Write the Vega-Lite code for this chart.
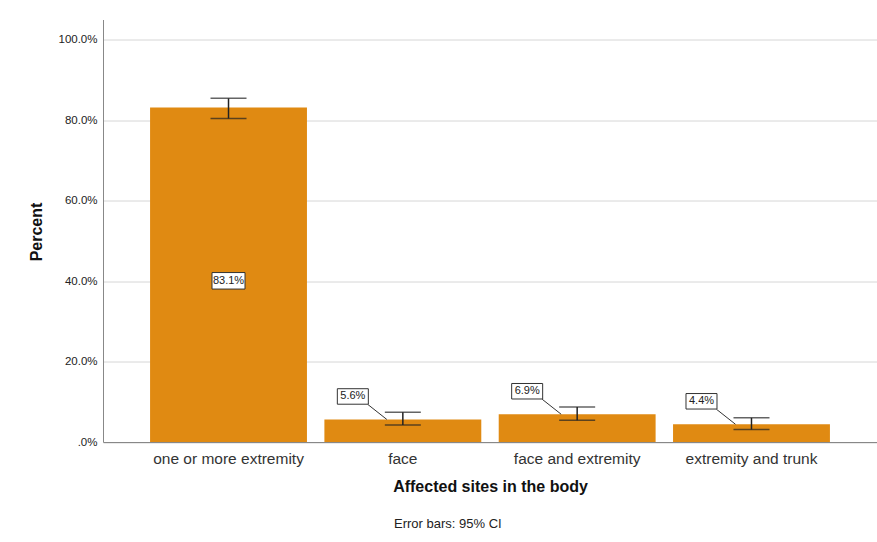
{
  "$schema": "https://vega.github.io/schema/vega-lite/v6.json",
  "width": 774,
  "height": 422.5,
  "autosize": "none",
  "padding": {"left": 103, "top": 19.5, "right": 0, "bottom": 100},
  "background": "white",
  "config": {
    "view": {"stroke": null},
    "font": "Liberation Sans"
  },
  "title": {
    "text": "Error bars: 95% CI",
    "orient": "bottom",
    "anchor": "start",
    "frame": "group",
    "dx": 291,
    "offset": 23,
    "fontSize": 13,
    "fontWeight": "normal",
    "color": "#222",
    "font": "Liberation Sans"
  },
  "data": {
    "values": [
      {"site": "one or more extremity", "pct": 83.1, "lo": 80.4, "hi": 85.4},
      {"site": "face", "pct": 5.6, "lo": 4.2, "hi": 7.4},
      {"site": "face and extremity", "pct": 6.9, "lo": 5.4, "hi": 8.7},
      {"site": "extremity and trunk", "pct": 4.4, "lo": 3.1, "hi": 6.0}
    ]
  },
  "transform": [
    {"calculate": "format(datum.pct, '.1f') + '%'", "as": "label"},
    {"calculate": "datum.pct / 2", "as": "mid"}
  ],
  "encoding": {
    "x": {
      "field": "site",
      "type": "nominal",
      "sort": null,
      "scale": {"paddingInner": 0.1, "paddingOuter": 0.27},
      "axis": {
        "title": "Affected sites in the body",
        "labelAngle": 0,
        "labelFontSize": 15.5,
        "labelColor": "#333",
        "labelPadding": 9,
        "ticks": false,
        "domainColor": "#888",
        "titleFontSize": 16,
        "titleFontWeight": "bold",
        "titleColor": "#111",
        "titlePadding": 12
      }
    }
  },
  "layer": [
    {
      "mark": {"type": "bar", "color": "#E08A12"},
      "encoding": {
        "y": {
          "field": "pct",
          "type": "quantitative",
          "scale": {"domain": [0, 105], "nice": false},
          "axis": {
            "title": "Percent",
            "values": [0, 20, 40, 60, 80, 100],
            "labelExpr": "datum.value == 0 ? '.0%' : format(datum.value, '.1f') + '%'",
            "labelFontSize": 11.5,
            "labelColor": "#222",
            "labelPadding": 6,
            "ticks": false,
            "domainColor": "#888",
            "gridColor": "#d6d6d6",
            "titleFontSize": 16,
            "titleFontWeight": "bold",
            "titleColor": "#111",
            "titleX": -67,
            "titleY": 212,
            "titleBaseline": "middle"
          }
        }
      }
    },
    {
      "mark": {"type": "rule", "color": "#222", "strokeWidth": 1.5},
      "encoding": {
        "y": {"field": "lo", "type": "quantitative"},
        "y2": {"field": "hi"}
      }
    },
    {
      "mark": {"type": "tick", "color": "#222", "size": 36, "thickness": 1.5},
      "encoding": {"y": {"field": "lo", "type": "quantitative"}}
    },
    {
      "mark": {"type": "tick", "color": "#222", "size": 36, "thickness": 1.5},
      "encoding": {"y": {"field": "hi", "type": "quantitative"}}
    },
    {
      "transform": [{"filter": "datum.pct < 50"}],
      "mark": {"type": "rule", "color": "#333", "strokeWidth": 1, "xOffset": -35, "yOffset": -15, "x2Offset": -16, "y2Offset": 0},
      "encoding": {
        "x": {"field": "site", "type": "nominal", "sort": null, "bandPosition": 0.5},
        "x2": {"field": "site", "bandPosition": 0.5},
        "y": {"field": "pct", "type": "quantitative"},
        "y2": {"field": "pct"}
      }
    },
    {
      "transform": [{"filter": "datum.pct < 50"}],
      "mark": {"type": "point", "shape": "M-1,-0.5H1V0.5H-1Z", "size": 961, "filled": false, "fill": "white", "fillOpacity": 1, "stroke": "#333", "strokeWidth": 1, "opacity": 1, "xOffset": -50, "yOffset": -23},
      "encoding": {"y": {"field": "pct", "type": "quantitative"}}
    },
    {
      "transform": [{"filter": "datum.pct < 50"}],
      "mark": {"type": "text", "fontSize": 11, "color": "#222", "dx": -50, "dy": -23, "baseline": "middle", "align": "center"},
      "encoding": {
        "y": {"field": "pct", "type": "quantitative"},
        "text": {"field": "label"}
      }
    },
    {
      "transform": [{"filter": "datum.pct >= 50"}],
      "mark": {"type": "point", "shape": "M-1,-0.5H1V0.5H-1Z", "size": 1089, "filled": false, "fill": "white", "fillOpacity": 1, "stroke": "#333", "strokeWidth": 1, "opacity": 1, "yOffset": 6},
      "encoding": {"y": {"field": "mid", "type": "quantitative"}}
    },
    {
      "transform": [{"filter": "datum.pct >= 50"}],
      "mark": {"type": "text", "fontSize": 11, "color": "#222", "dy": 6, "baseline": "middle", "align": "center"},
      "encoding": {
        "y": {"field": "mid", "type": "quantitative"},
        "text": {"field": "label"}
      }
    }
  ]
}
